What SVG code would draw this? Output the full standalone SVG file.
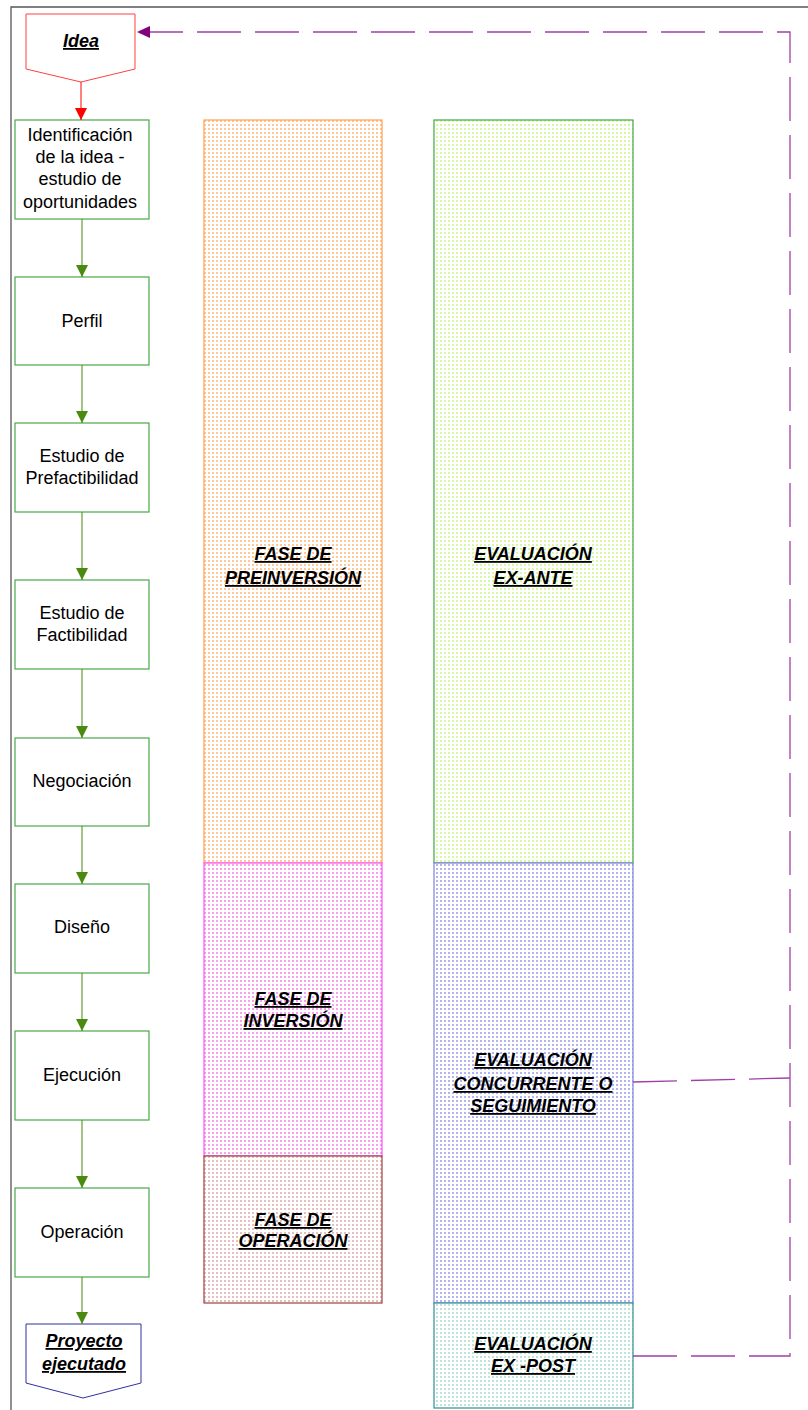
<svg xmlns="http://www.w3.org/2000/svg" width="808" height="1410" viewBox="0 0 808 1410">
<style>
.box{fill:#fff;stroke:#4aa84a;stroke-width:1.2}
.t{font-family:"Liberation Sans",Arial,sans-serif;font-size:18px;fill:#000;text-anchor:middle}
.b{font-family:"Liberation Sans",Arial,sans-serif;font-size:18px;font-weight:bold;font-style:italic;text-decoration:underline;fill:#000;text-anchor:middle}
.g{stroke:#4a8a10;stroke-width:1;fill:none}
.d{stroke:#a040a8;stroke-width:1.3;fill:none;stroke-dasharray:44 14}
</style>
<defs>
<pattern id="pO" width="4" height="4" patternUnits="userSpaceOnUse"><rect width="4" height="4" fill="#fff"/><rect x="0" y="0" width="2" height="2" fill="#ffc898"/></pattern>
<pattern id="pG" width="4" height="4" patternUnits="userSpaceOnUse"><rect width="4" height="4" fill="#fff"/><rect x="0" y="0" width="2" height="2" fill="#d8f8a8"/></pattern>
<pattern id="pP" width="4" height="4" patternUnits="userSpaceOnUse"><rect width="4" height="4" fill="#fff"/><rect x="0" y="0" width="2" height="2" fill="#f8a0f0"/></pattern>
<pattern id="pB" width="4" height="4" patternUnits="userSpaceOnUse"><rect width="4" height="4" fill="#fff"/><rect x="0" y="0" width="2" height="2" fill="#b4b4f0"/></pattern>
<pattern id="pR" width="4" height="4" patternUnits="userSpaceOnUse"><rect width="4" height="4" fill="#fff"/><rect x="0" y="0" width="2" height="2" fill="#e4c0c0"/></pattern>
<pattern id="pT" width="4" height="4" patternUnits="userSpaceOnUse"><rect width="4" height="4" fill="#fff"/><rect x="0" y="0" width="2" height="2" fill="#c0e4dc"/></pattern>
<marker id="aG" markerWidth="14" markerHeight="14" refX="12" refY="6" orient="auto" markerUnits="userSpaceOnUse"><path d="M0,0 L12,6 L0,12 Z" fill="#4a8a10"/></marker>
<marker id="aR" markerWidth="14" markerHeight="14" refX="12" refY="6" orient="auto" markerUnits="userSpaceOnUse"><path d="M0,0 L12,6 L0,12 Z" fill="#ff0000"/></marker>
<marker id="aP" markerWidth="16" markerHeight="14" refX="13" refY="6" orient="auto" markerUnits="userSpaceOnUse"><path d="M0,0 L13,6 L0,12 Z" fill="#800080"/></marker>
</defs>
<rect width="808" height="1410" fill="#fff"/>
<g id="frame"><path d="M11,1410 V7 H808" fill="none" stroke="#555" stroke-width="1.3"/></g>

<g id="col-preinversion"><rect x="204" y="120" width="178" height="743" fill="url(#pO)" stroke="#ffa050" stroke-width="1.2"/>
<text class="b" x="293" y="560">FASE DE </text><text class="b" x="293" y="584">PREINVERSIÓN</text></g>
<g id="col-inversion"><rect x="204" y="863" width="178" height="293" fill="url(#pP)" stroke="#ff50ff" stroke-width="1.2"/>
<text class="b" x="293" y="1005">FASE DE </text><text class="b" x="293" y="1027">INVERSIÓN</text></g>
<g id="col-operacion"><rect x="204" y="1156" width="178" height="147" fill="url(#pR)" stroke="#a04040" stroke-width="1.2"/>
<text class="b" x="293" y="1226">FASE DE </text><text class="b" x="293" y="1247">OPERACIÓN</text></g>
<g id="col-exante"><rect x="434" y="120" width="199" height="743" fill="url(#pG)" stroke="#40a840" stroke-width="1.2"/>
<text class="b" x="533" y="560">EVALUACIÓN</text><text class="b" x="533" y="584">EX-ANTE</text></g>
<g id="col-concurrente"><rect x="434" y="863" width="199" height="440" fill="url(#pB)" stroke="#8080e0" stroke-width="1.2"/>
<text class="b" x="533" y="1066">EVALUACIÓN</text><text class="b" x="533" y="1090">CONCURRENTE O</text><text class="b" x="533" y="1112">SEGUIMIENTO</text></g>
<g id="col-expost"><rect x="434" y="1303" width="199" height="105" fill="url(#pT)" stroke="#309090" stroke-width="1.2"/>
<text class="b" x="533" y="1350">EVALUACIÓN</text><text class="b" x="533" y="1372">EX -POST</text></g>

<g id="idea"><path d="M26,14 H135 V69 L81,82 L26,69 Z" fill="#fff" stroke="#ff4040" stroke-width="1"/><text class="b" x="81" y="47">Idea</text></g>
<g id="n1"><rect class="box" x="15" y="120" width="134" height="99"/><text class="t" x="80" y="141">Identificación</text><text class="t" x="80" y="163">de la idea -</text><text class="t" x="80" y="185">estudio de</text><text class="t" x="80" y="208">oportunidades</text></g>
<g id="n2"><rect class="box" x="15" y="277" width="134" height="88"/><text class="t" x="82" y="327">Perfil</text></g>
<g id="n3"><rect class="box" x="15" y="423" width="134" height="89"/><text class="t" x="82" y="462">Estudio de</text><text class="t" x="82" y="484">Prefactibilidad</text></g>
<g id="n4"><rect class="box" x="15" y="580" width="134" height="89"/><text class="t" x="82" y="619">Estudio de</text><text class="t" x="82" y="641">Factibilidad</text></g>
<g id="n5"><rect class="box" x="15" y="738" width="134" height="88"/><text class="t" x="82" y="787">Negociación</text></g>
<g id="n6"><rect class="box" x="15" y="884" width="134" height="89"/><text class="t" x="82" y="933">Diseño</text></g>
<g id="n7"><rect class="box" x="15" y="1031" width="134" height="89"/><text class="t" x="82" y="1081">Ejecución</text></g>
<g id="n8"><rect class="box" x="15" y="1188" width="134" height="89"/><text class="t" x="82" y="1238">Operación</text></g>
<g id="fin"><path d="M26,1324 H141 V1383 L83,1398 L26,1383 Z" fill="#fff" stroke="#3030a0" stroke-width="1"/><text class="b" x="84" y="1347">Proyecto </text><text class="b" x="84" y="1370">ejecutado</text></g>

<g id="connectors">
<line x1="81" y1="82" x2="81" y2="120" stroke="#ff0000" stroke-width="1" marker-end="url(#aR)"/>
<line class="g" x1="82" y1="219" x2="82" y2="277" marker-end="url(#aG)"/>
<line class="g" x1="82" y1="365" x2="82" y2="423" marker-end="url(#aG)"/>
<line class="g" x1="82" y1="512" x2="82" y2="580" marker-end="url(#aG)"/>
<line class="g" x1="82" y1="669" x2="82" y2="738" marker-end="url(#aG)"/>
<line class="g" x1="82" y1="826" x2="82" y2="884" marker-end="url(#aG)"/>
<line class="g" x1="82" y1="973" x2="82" y2="1031" marker-end="url(#aG)"/>
<line class="g" x1="82" y1="1120" x2="82" y2="1188" marker-end="url(#aG)"/>
<line class="g" x1="82" y1="1277" x2="82" y2="1324" marker-end="url(#aG)"/>
<path class="d" d="M633,1082 L790,1078"/>
<path class="d" d="M633,1356 H790 V32 H137" marker-end="url(#aP)"/>
</g>
</svg>
